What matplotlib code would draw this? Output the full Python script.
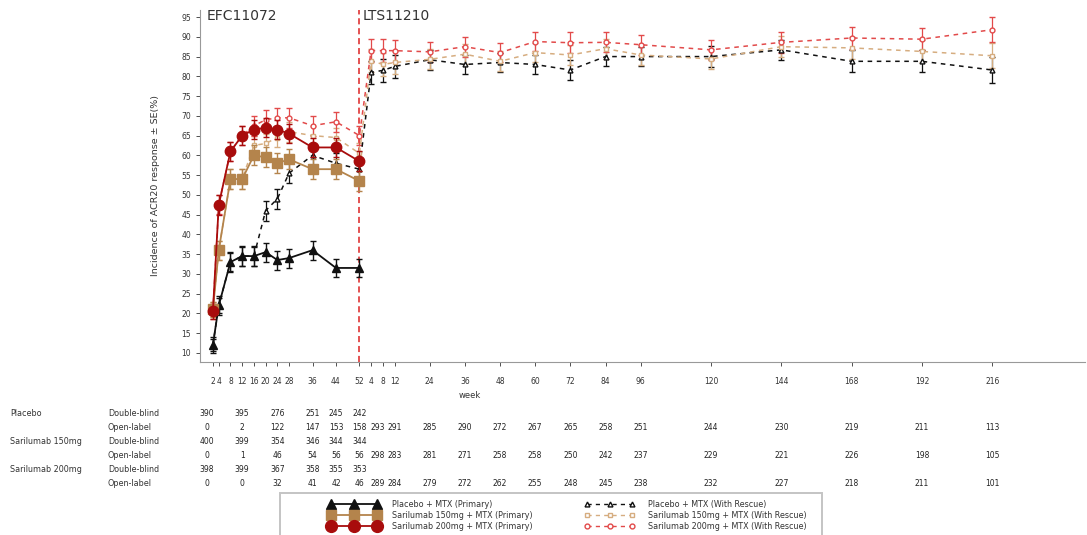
import matplotlib
matplotlib.use("Agg")
import matplotlib.pyplot as plt
import matplotlib.transforms as mtransforms
from matplotlib.lines import Line2D
from matplotlib.patches import Rectangle
import numpy as np

# weeks of each study (LTS weeks are drawn after week 52 of EFC)
efc_weeks = [2, 4, 8, 12, 16, 20, 24, 28, 36, 44, 52]
lts_weeks = [4, 8, 12, 24, 36, 48, 60, 72, 84, 96, 120, 144, 168, 192, 216]
efc_end = 52

# primary analysis (EFC11072 only)
pbo_primary = [12, 22, 33, 34.5, 34.5, 35.5, 33.5, 34, 36, 31.5, 31.5]
pbo_primary_se = [1.5, 2.0, 2.3, 2.4, 2.4, 2.4, 2.4, 2.4, 2.4, 2.3, 2.3]
s150_primary = [21, 36, 54, 54, 60, 59.5, 58, 59, 56.5, 56.5, 53.5]
s150_primary_se = [2.0, 2.4, 2.5, 2.5, 2.5, 2.5, 2.5, 2.5, 2.5, 2.5, 2.5]
s200_primary = [20.5, 47.5, 61, 65, 66.5, 67, 66.5, 65.5, 62, 62, 58.5]
s200_primary_se = [2.0, 2.5, 2.4, 2.4, 2.4, 2.4, 2.4, 2.4, 2.5, 2.5, 2.5]

# with rescue (EFC11072 then LTS11210)
pbo_rescue_efc = [12, 22, 33, 34.5, 34.5, 46, 49, 55.5, 60, 58, 56.5]
pbo_rescue_lts = [81, 81.5, 82.5, 84.2, 83, 83.5, 83, 81.6, 85, 85, 85, 86.7, 83.8, 83.8, 81.6]
s150_rescue_efc = [21, 36, 54, 54, 62.5, 63, 64.5, 66, 65, 64.5, 60.5]
s150_rescue_lts = [84, 83, 83.5, 84.3, 85.6, 83.8, 86, 85.4, 87, 85.4, 84.4, 87.5, 87.2, 86.3, 85.2]
s200_rescue_efc = [20.5, 47.5, 61, 65, 67.5, 69, 69.5, 69.5, 67.5, 68.5, 65]
s200_rescue_lts = [86.5, 86.5, 86.5, 86.2, 87.5, 86, 88.8, 88.5, 88.6, 88, 86.7, 88.6, 89.7, 89.4, 91.8]
rescue_se_efc = [2.0, 2.4, 2.5, 2.5, 2.5, 2.5, 2.5, 2.5, 2.5, 2.5, 2.5]
rescue_se_lts = [3.0, 3.0, 2.8, 2.5, 2.5, 2.5, 2.5, 2.6, 2.5, 2.5, 2.6, 2.6, 2.8, 2.8, 3.2]

# number of subjects table (column positions in weeks of the x axis)
db_cols = [0, 12, 24, 36, 44, 52]
ol_lts_cols = [6.3, 12, 24, 36, 48, 60, 72, 84, 96, 120, 144, 168, 192, 216]
table_rows = [
    ("Placebo", "Double-blind", [390, 395, 276, 251, 245, 242], None),
    ("", "Open-label", [0, 2, 122, 147, 153, 158],
     [293, 291, 285, 290, 272, 267, 265, 258, 251, 244, 230, 219, 211, 113]),
    ("Sarilumab 150mg", "Double-blind", [400, 399, 354, 346, 344, 344], None),
    ("", "Open-label", [0, 1, 46, 54, 56, 56],
     [298, 283, 281, 271, 258, 258, 250, 242, 237, 229, 221, 226, 198, 105]),
    ("Sarilumab 200mg", "Double-blind", [398, 399, 367, 358, 355, 353], None),
    ("", "Open-label", [0, 0, 32, 41, 42, 46],
     [289, 284, 279, 272, 262, 255, 248, 245, 238, 232, 227, 218, 211, 101]),
]

c_black = "#111111"
c_brown = "#b4844c"
c_red = "#a80c0c"
c_tan = "#d6ad80"
c_lred = "#e24a4a"
c_text = "#333333"

fig = plt.figure(figsize=(10.87, 5.35), dpi=100)
ax = fig.add_axes([0.184, 0.3234, 0.814, 0.658])

lts_x = [efc_end + w for w in lts_weeks]
all_x = efc_weeks + lts_x

rescue = [
    (pbo_rescue_efc + pbo_rescue_lts, c_black, "^", "Placebo + MTX (With Rescue)"),
    (s150_rescue_efc + s150_rescue_lts, c_tan, "s", "Sarilumab 150mg + MTX (With Rescue)"),
    (s200_rescue_efc + s200_rescue_lts, c_lred, "o", "Sarilumab 200mg + MTX (With Rescue)"),
]
for vals, col, mk, lab in rescue:
    ax.errorbar(all_x, vals, yerr=rescue_se_efc + rescue_se_lts, color=col, ls=(0, (3, 3)),
                lw=1.1, marker=mk, ms=3.5, mfc="white", mec=col, capsize=2.5,
                elinewidth=0.9, zorder=2)

primary = [
    (pbo_primary, pbo_primary_se, c_black, "^", 6, "Placebo + MTX (Primary)"),
    (s150_primary, s150_primary_se, c_brown, "s", 6.5, "Sarilumab 150mg + MTX (Primary)"),
    (s200_primary, s200_primary_se, c_red, "o", 7.5, "Sarilumab 200mg + MTX (Primary)"),
]
for vals, se, col, mk, ms, lab in primary:
    ax.errorbar(efc_weeks, vals, yerr=se, color=col, ls="-", lw=1.3, marker=mk, ms=ms,
                capsize=2.5, elinewidth=1.0, zorder=3)

ax.axvline(efc_end, color="#dd2222", ls=(0, (4, 2.5)), lw=1.1, zorder=1)
ax.text(0, 95.3, "EFC11072", fontsize=10, color=c_text, va="center", ha="left")
ax.text(efc_end + 1, 95.3, "LTS11210", fontsize=10, color=c_text, va="center", ha="left")

ax.set_xlim(-2.4, 299.6)
ax.set_ylim(7.7, 96.8)
ax.set_yticks(np.arange(10, 96, 5))
ax.set_xticks(all_x)
ax.set_xticklabels([str(w) for w in efc_weeks + lts_weeks])
ax.tick_params(axis="both", labelsize=5.5, length=3, width=0.6, colors=c_text)
ax.tick_params(axis="x", pad=8)
for s in ["top", "right"]:
    ax.spines[s].set_visible(False)
for s in ["left", "bottom"]:
    ax.spines[s].set_color("#999999")
    ax.spines[s].set_linewidth(0.8)
ax.set_ylabel("Incidence of ACR20 response \u00b1 SE(%)", fontsize=6.8, color=c_text, labelpad=15)
fig.text(470 / 1087, 1 - 395 / 535, "week", fontsize=6, color=c_text, ha="center", va="center")

# table of subjects
trans = mtransforms.blended_transform_factory(ax.transData, fig.transFigure)
row_y = [413, 427, 441, 455, 469, 483]
for (grp, phase, db_vals, lts_vals), yp in zip(table_rows, row_y):
    yf = 1 - yp / 535
    if grp:
        fig.text(10 / 1087, yf, grp, fontsize=5.8, color=c_text, va="center")
    fig.text(108 / 1087, yf, phase, fontsize=5.8, color=c_text, va="center")
    for w, v in zip(db_cols, db_vals):
        ax.text(w, yf, str(v), transform=trans, fontsize=5.5, color="#222222", ha="center", va="center")
    if lts_vals is not None:
        for w, v in zip(ol_lts_cols, lts_vals):
            ax.text(efc_end + w, yf, str(v), transform=trans, fontsize=5.5, color="#222222",
                    ha="center", va="center")

# legend
handles = []
labels = []
for vals, se, col, mk, ms, lab in primary:
    handles.append(Line2D([0], [0], color=col, ls="-", lw=1.3, marker=mk, ms=ms + 1))
    labels.append(lab)
for vals, col, mk, lab in rescue:
    handles.append(Line2D([0], [0], color=col, ls=(0, (3, 3)), lw=1.0, marker=mk, ms=3.5,
                          mfc="white", mec=col))
    labels.append(lab)
leg = fig.legend(handles, labels, loc="upper left", bbox_to_anchor=(329 / 1087, 1 - 500 / 535), ncol=2,
                 fontsize=5.8, numpoints=3, handlelength=6.2, columnspacing=6.5, frameon=False,
                 borderpad=0, borderaxespad=0, labelspacing=0.25, handletextpad=1.6)
for t in leg.get_texts():
    t.set_color(c_text)
fig.add_artist(Rectangle((280 / 1087, -0.02), 542 / 1087, 0.02 + 42 / 535, transform=fig.transFigure,
                         fill=False, edgecolor="#c4c4c4", lw=1.4))

fig.savefig("out.png", dpi=100)
